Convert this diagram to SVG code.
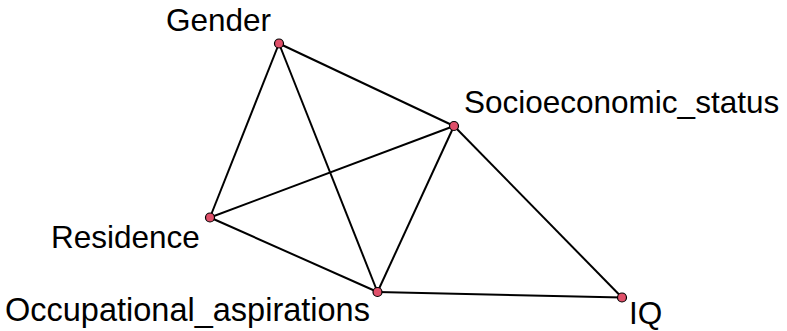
<svg xmlns="http://www.w3.org/2000/svg" width="787" height="331" viewBox="0 0 787 331">
<style>
.e{stroke:#000;stroke-width:2;fill:none}
.n{fill:#e0506a;stroke:#000;stroke-width:1.2}
.t{font-family:"Liberation Sans",Arial,sans-serif;font-size:31.5px;fill:#000}
</style>
<rect width="787" height="331" fill="#fff"/>
<g id="edges">
<line class="e" x1="279" y1="43.5" x2="454" y2="126"/>
<line class="e" x1="279" y1="43.5" x2="210" y2="217.5"/>
<line class="e" x1="279" y1="43.5" x2="377.5" y2="292"/>
<line class="e" x1="454" y1="126" x2="210" y2="217.5"/>
<line class="e" x1="454" y1="126" x2="377.5" y2="292"/>
<line class="e" x1="454" y1="126" x2="622" y2="297.5"/>
<line class="e" x1="210" y1="217.5" x2="377.5" y2="292"/>
<line class="e" x1="377.5" y1="292" x2="622" y2="297.5"/>
</g>
<g id="Gender"><circle class="n" cx="279" cy="43.5" r="4.5"/><text class="t" x="166" y="31">Gender</text></g>
<g id="Socioeconomic_status"><circle class="n" cx="454" cy="126" r="4.5"/><text class="t" x="464" y="113">Socioeconomic_status</text></g>
<g id="Residence"><circle class="n" cx="210" cy="217.5" r="4.5"/><text class="t" x="51" y="248">Residence</text></g>
<g id="Occupational_aspirations"><circle class="n" cx="377.5" cy="292" r="4.5"/><text class="t" x="5" y="321" style="font-size:32.5px">Occupational_aspirations</text></g>
<g id="IQ"><circle class="n" cx="622" cy="297.5" r="4.5"/><text class="t" x="629" y="324">IQ</text></g>
</svg>
